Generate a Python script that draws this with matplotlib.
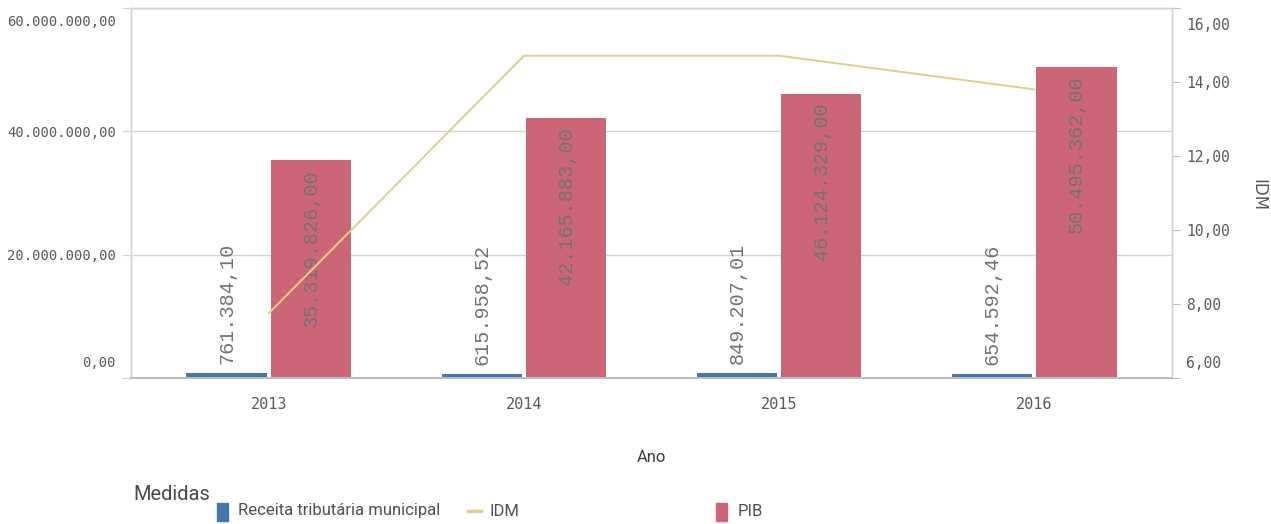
import numpy as np
import matplotlib
matplotlib.use('Agg')
import matplotlib.pyplot as plt
import matplotlib.transforms as mtransforms
from matplotlib.patches import Rectangle
from matplotlib.lines import Line2D

# Data
anos = ['2013', '2014', '2015', '2016']
receita = [761384.10, 615958.52, 849207.01, 654592.46]
pib = [35319826.00, 42165883.00, 46124329.00, 50495362.00]
idm = [7.75, 14.71, 14.71, 13.80]

left_ticks = [0, 20e6, 40e6, 60e6]
right_ticks = [6, 8, 10, 12, 14, 16]

BLUE = '#4477aa'
PINK = '#cc6677'
YELLOW = '#ddd088'
GRID = '#d4d4d4'
TXT = '#595959'


def fmt_br(v):
    # 1234567.8 -> 1.234.567,80
    s = f"{v:,.2f}"
    return s.replace(',', 'X').replace('.', ',').replace('X', '.')


def shift(label, dy_px):
    # move an edge tick label inward, like the original does
    off = mtransforms.ScaledTranslation(0, dy_px / 100.0, fig.dpi_scale_trans)
    label.set_va('center')
    label.set_transform(label.get_transform() + off)


fig = plt.figure(figsize=(12.71, 5.24), dpi=100)
ax = fig.add_axes([131 / 1271, 1 - 378 / 524, (1172 - 131) / 1271, (378 - 8) / 524])
ax2 = ax.twinx()

x = np.arange(len(anos))
w = 0.315
off = 0.165

ax.bar(x - off, receita, width=w, color=BLUE, zorder=2)
ax.bar(x + off, pib, width=w, color=PINK, zorder=2)

lab_font = dict(family='Liberation Mono', fontsize=14.5, color='#727272', rotation=90)
px = 60e6 / 370.0  # data units per pixel on left axis
for i in range(len(anos)):
    ax.text(x[i] - off, receita[i] + 9 * px, fmt_br(receita[i]), ha='center', va='bottom', zorder=3, **lab_font)
    ax.text(x[i] + off, pib[i] - 9 * px, fmt_br(pib[i]), ha='center', va='top', zorder=3, **lab_font)

ax2.plot(x, idm, color=YELLOW, lw=1.4, zorder=4)

ax.set_xlim(-0.54, 3.54)
ax.set_ylim(0, 60e6)
ax2.set_ylim(6, 16)
ax2.patch.set_visible(False)

# left axis
ax.set_yticks(left_ticks)
ax.set_yticklabels([fmt_br(v) for v in left_ticks])
ax.grid(axis='y', color=GRID, lw=1, zorder=0)
ax.tick_params(axis='y', length=6.5, color=GRID, pad=4.5, labelsize=10, labelcolor=TXT)
for lab in ax.get_yticklabels():
    lab.set_family('DejaVu Sans Mono')
labs = ax.get_yticklabels()
shift(labs[0], 15)
shift(labs[-1], -14)

# right axis
ax2.set_yticks(right_ticks)
ax2.set_yticklabels([fmt_br(v) for v in right_ticks])
ax2.tick_params(axis='y', length=6, color='#bdbdbd', pad=4, labelsize=10.5, labelcolor=TXT)
for lab in ax2.get_yticklabels():
    lab.set_family('DejaVu Sans Mono')
labs2 = ax2.get_yticklabels()
shift(labs2[0], 15)
shift(labs2[-1], -18)

# x axis
ax.set_xticks(x)
ax.set_xticklabels(anos, family='DejaVu Sans Mono', fontsize=11, color=TXT)
ax.tick_params(axis='x', length=0, pad=14)

for a in (ax, ax2):
    for s in ('left', 'right', 'top'):
        a.spines[s].set_color(GRID)
        a.spines[s].set_linewidth(1)
    a.spines['bottom'].set_color('#bdbdbd')
    a.spines['bottom'].set_linewidth(1.2)

fig.text(1258 / 1271, 1 - 195 / 524, 'IDM', rotation=270, ha='center', va='center',
         family='DejaVu Sans', fontsize=12, color=TXT)
fig.text(652 / 1271, 1 - 458 / 524, 'Ano', ha='center', va='center',
         family='Roboto', fontsize=12, color='#3a3a3a')

# legend
fig.text(133 / 1271, 1 - 495 / 524, 'Medidas', ha='left', va='center',
         family='Roboto', fontsize=14.5, color='#4a4a4a')
ly = 1 - 511 / 524
fig.patches.append(Rectangle((217 / 1271, 1 - 521 / 524), 11 / 1271, 18 / 524,
                             transform=fig.transFigure, color=BLUE))
fig.text(238 / 1271, ly, 'Receita tributária municipal', ha='left', va='center',
         family='Roboto', fontsize=12, color='#505050')
fig.lines.append(Line2D([468 / 1271, 481 / 1271], [ly, ly], transform=fig.transFigure,
                        color=YELLOW, lw=2.5))
fig.text(490 / 1271, ly, 'IDM', ha='left', va='center',
         family='Roboto', fontsize=12, color='#505050')
fig.patches.append(Rectangle((716 / 1271, 1 - 521 / 524), 11 / 1271, 18 / 524,
                             transform=fig.transFigure, color=PINK))
fig.text(738 / 1271, ly, 'PIB', ha='left', va='center',
         family='Roboto', fontsize=12, color='#505050')

fig.savefig('out.png', dpi=100)
